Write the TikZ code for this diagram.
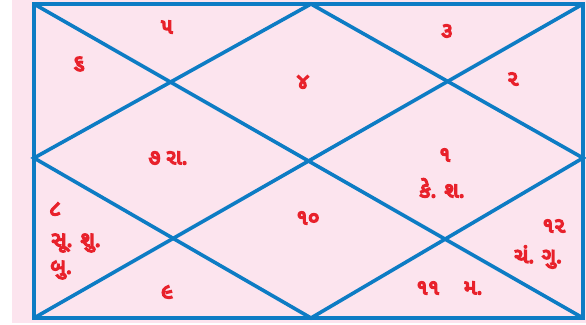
\documentclass[tikz,border=0pt]{standalone}
\usepackage{fontspec}
\newfontfamily\gujfont[Script=Gujarati,FakeBold=7]{Noto Sans Gujarati UI}
\definecolor{chartpink}{HTML}{FCE4EE}
\definecolor{chartblue}{HTML}{0D7CC4}
\definecolor{chartred}{HTML}{E8212B}
\tikzset{
  house/.style={text=chartred,inner sep=1pt,font=\gujfont\fontsize{21}{24}\selectfont},
  chartline/.style={chartblue,line width=3.6pt}
}

\begin{document}
\begin{tikzpicture}[x=1pt,y=-1pt]
  \useasboundingbox (0,0) rectangle (586,324);
  \fill[chartpink] (12,0) rectangle (586,323);
  % corners and midpoints of the chart
  \coordinate (tl) at (34,4);
  \coordinate (tr) at (583,4);
  \coordinate (bl) at (34,318);
  \coordinate (br) at (583,318);
  \coordinate (tm) at (311,4);
  \coordinate (bm) at (311,318);
  \coordinate (lm) at (34,158);
  \coordinate (rm) at (583,158);
  \draw[chartline,line width=4pt] (tl) rectangle (br);
  \draw[chartline] (tl) -- (br);
  \draw[chartline] (tr) -- (bl);
  \draw[chartline] (tm) -- (lm) -- (bm) -- (rm) -- cycle;
  % houses
  \node[house] (h5) at (167,27) {૫};
  \node[house] (h6) at (79,64) {૬};
  \node[house] (h4) at (303,82) {૪};
  \node[house] (h3) at (447,31) {૩};
  \node[house] (h2) at (513,79) {૨};
  \node[house] (h7) at (168,158) {૭ રા.};
  \node[house] (h1) at (445,155) {૧};
  \node[house] (h1p) at (442,188) {કે. શ.};
  \node[house] (h8) at (55,209) {૮};
  \node[house] (h8p) at (76,243) {સૂ. શુ.};
  \node[house] (h8q) at (61,270) {બુ.};
  \node[house] (h10) at (308,218) {૧૦};
  \node[house] (h9) at (167,292) {૯};
  \node[house] (h12) at (554,226) {૧૨};
  \node[house] (h12p) at (538,257) {ચં. ગુ.};
  \node[house] (h11) at (428,288) {૧૧};
  \node[house] (h11p) at (473,288) {મ.};
\end{tikzpicture}
\end{document}
